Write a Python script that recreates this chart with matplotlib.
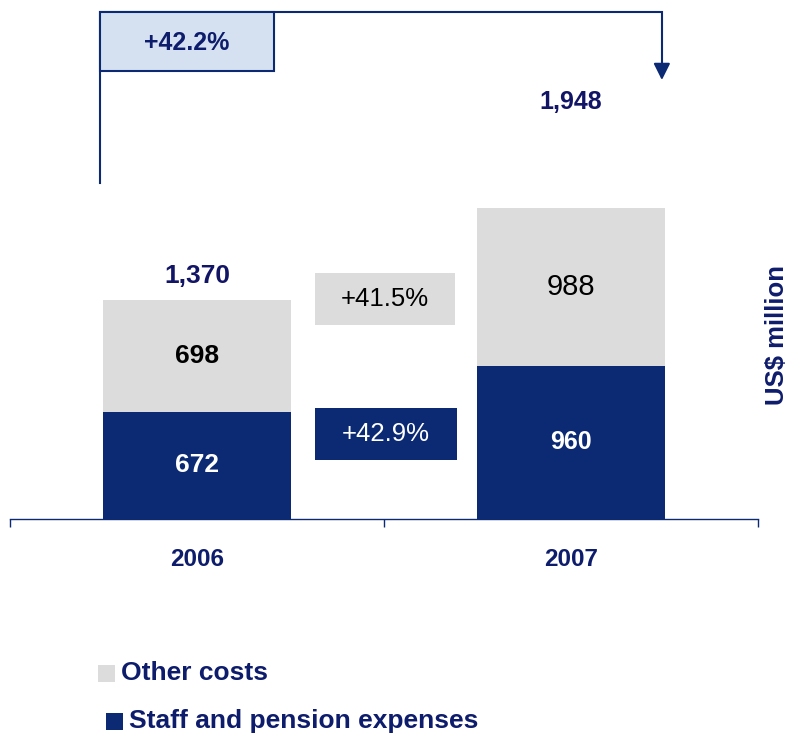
import matplotlib
matplotlib.use("Agg")
import matplotlib.pyplot as plt
from matplotlib.patches import Rectangle
from matplotlib import font_manager
import matplotlib.transforms as mtransforms

years = ["2006", "2007"]
staff = [672, 960]
other = [698, 988]
totals = [1370, 1948]
growth_total = "+42.2%"
growth_other = "+41.5%"
growth_staff = "+42.9%"
legend_labels = ["Other costs", "Staff and pension expenses"]
unit_label = "US$ million"

NAVY = "#0B2A73"
NAVY_TXT = "#0E1C6C"
TOT_TXT = "#121466"
GREY = "#DCDCDC"
LIGHT = "#D5E1F1"

names = {f.name for f in font_manager.fontManager.ttflist}
BASE = "Liberation Sans" if "Liberation Sans" in names else "DejaVu Sans"
NARROW = "Liberation Sans Narrow" if "Liberation Sans Narrow" in names else BASE
plt.rcParams["font.family"] = [BASE, "DejaVu Sans"]

fig = plt.figure(figsize=(7.92, 7.36), dpi=100)
W, H = 792, 736
ax = fig.add_axes([10 / W, (H - 519) / H, 748 / W, 519 / H])

x = list(range(len(years)))
bw = 0.505
ax.bar(x, staff, width=bw, color=NAVY, zorder=2)
ax.bar(x, other, width=bw, bottom=staff, color=GREY, zorder=2)

ax.set_xlim(-0.5, 1.5)
ax.set_ylim(0, 3250)
for s in ["top", "left", "right"]:
    ax.spines[s].set_visible(False)
ax.spines["bottom"].set_color(NAVY)
ax.spines["bottom"].set_linewidth(1.0)
ax.set_yticks([])
ax.set_xticks(x)
ax.set_xticklabels(years, fontsize=17.5, fontweight="bold", color=NAVY_TXT, family=[NARROW, "DejaVu Sans"])
ax.tick_params(axis="x", which="major", length=0, pad=21)
ax.set_xticks([-0.5, 0.5, 1.5], minor=True)
ax.tick_params(axis="x", which="minor", length=6, width=1.0, color=NAVY, direction="out")

# segment labels: (colour, weight, size)
staff_styles = [("white", "bold", 19), ("white", "bold", 18)]
other_styles = [("black", "bold", 19), ("black", "normal", 21)]
for i in x:
    c, w, fs = staff_styles[i]
    ax.text(i, staff[i] / 2, f"{staff[i]:,}", ha="center", va="center", fontsize=fs,
            color=c, fontweight=w, zorder=3)
    c, w, fs = other_styles[i]
    ax.text(i, staff[i] + other[i] / 2, f"{other[i]:,}", ha="center", va="center", fontsize=fs,
            color=c, fontweight=w, zorder=3)

# totals
trans = mtransforms.blended_transform_factory(ax.transData, ax.transAxes)
ax.annotate(f"{totals[0]:,}", xy=(0, totals[0]), xytext=(0, 9), textcoords="offset points",
            ha="center", va="bottom", fontsize=19, fontweight="bold", color=TOT_TXT)
ax.text(1, (519 - 102) / 519, f"{totals[1]:,}", transform=trans, ha="center", va="center",
        fontsize=18, fontweight="bold", color=TOT_TXT)

# growth boxes between bars
def box(x0, x1, y0, y1, fc, ec=None, lw=0):
    r = Rectangle((x0, y0), x1 - x0, y1 - y0, transform=trans, facecolor=fc,
                  edgecolor=ec if ec else fc, linewidth=lw, zorder=4, clip_on=False)
    ax.add_patch(r)

box(0.316, 0.690, (519 - 325) / 519, (519 - 273) / 519, GREY)
ax.text(0.503, (519 - 299) / 519, growth_other, transform=trans, ha="center", va="center",
        fontsize=18.5, color="black", zorder=5)
box(0.316, 0.695, (519 - 460) / 519, (519 - 408) / 519, NAVY)
ax.text(0.505, (519 - 434) / 519, growth_staff, transform=trans, ha="center", va="center",
        fontsize=18.5, color="white", zorder=5)

# top arrow
xl, xr = -0.259, 1.243
y_low = (519 - 183) / 519
y_top = (519 - 12) / 519
y_end = (519 - 80) / 519
ax.plot([xl, xl, xr, xr], [y_low, y_top, y_top, (519 - 67) / 519], transform=trans,
        color=NAVY, lw=1.5, clip_on=False, zorder=4, solid_joinstyle="miter")
ax.annotate("", xy=(xr, y_end), xytext=(xr, (519 - 64) / 519), xycoords=trans, textcoords=trans,
            arrowprops=dict(arrowstyle="-|>,head_length=1.0,head_width=0.5", color=NAVY, lw=1.5,
                            shrinkA=0, shrinkB=0), annotation_clip=False, zorder=4)
box(xl, 0.206, (519 - 71) / 519, y_top, LIGHT, NAVY, 1.5)
ax.text((xl + 0.206) / 2, (519 - 43) / 519, growth_total, transform=trans, ha="center",
        va="center", fontsize=18, fontweight="bold", color=NAVY_TXT, zorder=5)

# unit label
fig.text(777 / W, 1 - 335 / H, unit_label, rotation=90, ha="center", va="center",
         fontsize=18.5, fontweight="bold", color=NAVY_TXT)

# legend
fig.patches.append(Rectangle((98 / W, 1 - 682 / H), 17 / W, 17 / H, transform=fig.transFigure,
                             facecolor=GREY, edgecolor="none"))
fig.text(121 / W, 1 - 673 / H, legend_labels[0], ha="left", va="center", fontsize=19,
         fontweight="bold", color=NAVY_TXT)
fig.patches.append(Rectangle((106 / W, 1 - 730 / H), 17 / W, 17 / H, transform=fig.transFigure,
                             facecolor=NAVY, edgecolor="none"))
fig.text(129 / W, 1 - 721 / H, legend_labels[1], ha="left", va="center", fontsize=19,
         fontweight="bold", color=NAVY_TXT)

fig.savefig("out.png", dpi=100)
